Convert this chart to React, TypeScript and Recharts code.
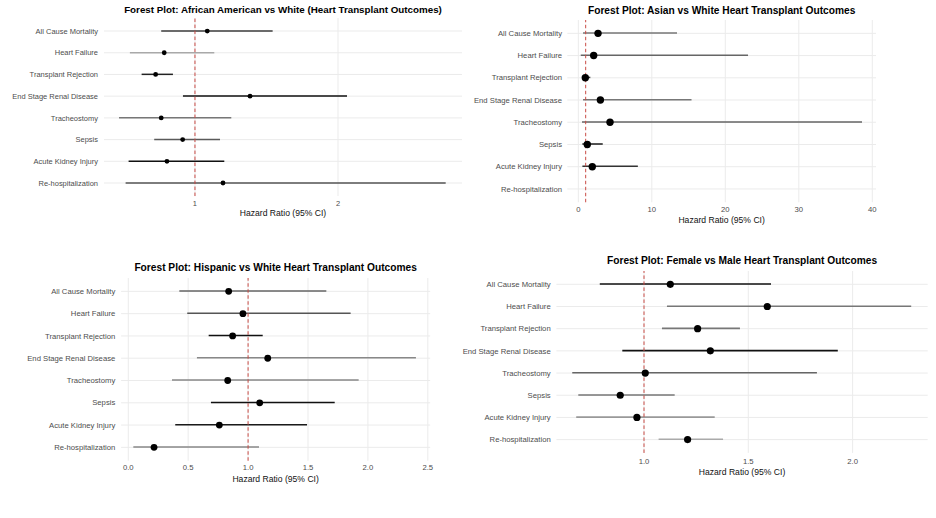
import React from "react"
import {
  ComposedChart,
  Bar,
  Line,
  Cell,
  XAxis,
  YAxis,
  CartesianGrid,
  ReferenceLine,
} from "recharts"

const outcomes = [
  "All Cause Mortality",
  "Heart Failure",
  "Transplant Rejection",
  "End Stage Renal Disease",
  "Tracheostomy",
  "Sepsis",
  "Acute Kidney Injury",
  "Re-hospitalization",
]

// African American vs White
const aaHR = [1.086, 0.785, 0.725, 1.385, 0.764, 0.914, 0.804, 1.196]
const aaLow = [0.764, 0.545, 0.627, 0.916, 0.469, 0.715, 0.536, 0.515]
const aaHigh = [1.543, 1.135, 0.846, 2.063, 1.254, 1.175, 1.205, 2.753]

// Asian vs White (no re-hospitalization estimate)
const asHR = [2.68, 2.09, 0.95, 3.0, 4.31, 1.22, 1.9, null]
const asLow = [0.64, 0.33, 0.6, 0.64, 0.5, 0.55, 0.55, null]
const asHigh = [13.43, 23.09, 1.63, 15.4, 38.6, 3.32, 8.1, null]

// Hispanic vs White
const hiHR = [0.838, 0.957, 0.871, 1.164, 0.83, 1.097, 0.76, 0.215]
const hiLow = [0.426, 0.492, 0.671, 0.573, 0.365, 0.69, 0.392, 0.042]
const hiHigh = [1.653, 1.856, 1.122, 2.401, 1.923, 1.723, 1.492, 1.091]

// Female vs Male
const fmHR = [1.126, 1.591, 1.257, 1.318, 1.006, 0.886, 0.966, 1.209]
const fmLow = [0.788, 1.11, 1.086, 0.896, 0.656, 0.685, 0.675, 1.07]
const fmHigh = [1.609, 2.281, 1.46, 1.929, 1.829, 1.147, 1.339, 1.379]

const aaTicks = [1, 2]
const aaMinor = [0.5, 1.5, 2.5]
const asTicks = [0, 10, 20, 30, 40]
const asMinor = [5, 15, 25, 35]
const hiTicks = [0, 0.5, 1, 1.5, 2, 2.5]
const hiMinor = [0.25, 0.75, 1.25, 1.75, 2.25]
const fmTicks = [1, 1.5, 2]
const fmMinor = [0.75, 1.25, 1.75, 2.25]

// line shades per row (styles, kept apart from the values)
const aaColors = ["#3c3c3c", "#a9a9a9", "#222", "#111", "#777", "#5a5a5a", "#111", "#555"]
const asColors = ["#777", "#666", "#333", "#777", "#666", "#1a1a1a", "#333", "#777"]
const hiColors = ["#666", "#555", "#111", "#888", "#888", "#111", "#1a1a1a", "#888"]
const fmColors = ["#111", "#777", "#777", "#111", "#666", "#777", "#999", "#aaa"]

const FONT = '"Liberation Sans", Arial, Helvetica, sans-serif'

function buildRows(hr, low, high) {
  return outcomes.map((o, i) => ({
    outcome: o,
    hr: hr[i],
    ci: low[i] == null ? null : [low[i], high[i]],
  }))
}

function makeYTick(size) {
  return (props) => {
    const { x, y, payload } = props
    return (
      <text
        x={x}
        y={y}
        dy="0.35em"
        textAnchor="end"
        fontSize={size}
        fill="#4d4d4d"
        fontFamily={FONT}
      >
        {payload.value}
      </text>
    )
  }
}

function Panel({
  title,
  titleSize,
  titleY,
  axisTitleY,
  left,
  plotLeft,
  plotRight,
  firstRow,
  lastRow,
  tickY,
  labelRight,
  labelSize,
  domain,
  ticks,
  minor,
  fmt,
  r,
  barSize,
  rows,
  colors,
}) {
  const step = (lastRow - firstRow) / (outcomes.length - 1)
  const plotTop = firstRow - 0.6 * step
  const plotBottom = lastRow + 0.6 * step
  const pad = 0.1 * step
  const xh = 30
  const extra = 16
  const width = plotRight - left + extra
  const height = plotBottom - plotTop + xh
  const tickMargin = tickY - 0.36 * labelSize - plotBottom
  const cx = (plotLeft + plotRight) / 2
  return (
    <>
      <div
        style={{
          position: "absolute",
          left: cx - 250,
          width: 500,
          top: titleY - 7,
          lineHeight: "14px",
          textAlign: "center",
          fontSize: titleSize,
          fontWeight: "bold",
          color: "#000",
          whiteSpace: "nowrap",
        }}
      >
        {title}
      </div>
      <div style={{ position: "absolute", left, top: plotTop }}>
        <ComposedChart
          width={width}
          height={height}
          data={rows}
          layout="vertical"
          margin={{ top: 0, right: extra, bottom: 0, left: 0 }}
        >
          <CartesianGrid
            xAxisId="minor"
            horizontal={false}
            syncWithTicks
            stroke="#f3f3f3"
            strokeWidth={0.8}
          />
          <CartesianGrid syncWithTicks stroke="#ebebeb" strokeWidth={1} />
          <XAxis
            type="number"
            domain={domain}
            ticks={ticks}
            interval={0}
            axisLine={false}
            tickLine={false}
            tickSize={0}
            tickMargin={tickMargin}
            height={xh}
            tickFormatter={fmt}
            tick={{ fontSize: labelSize, fill: "#4d4d4d", fontFamily: FONT }}
          />
          <XAxis
            xAxisId="minor"
            type="number"
            domain={domain}
            ticks={minor}
            interval={0}
            hide
          />
          <YAxis
            type="category"
            dataKey="outcome"
            width={plotLeft - left}
            axisLine={false}
            tickLine={false}
            tickSize={0}
            tickMargin={plotLeft - labelRight}
            interval={0}
            padding={{ top: pad, bottom: pad }}
            tick={makeYTick(labelSize)}
          />
          <ReferenceLine
            x={1}
            stroke="#c94a44"
            strokeDasharray="3.5 2.5"
            strokeWidth={1}
          />
          <Bar dataKey="ci" barSize={barSize} isAnimationActive={false}>
            {rows.map((_, i) => (
              <Cell key={i} fill={colors[i]} />
            ))}
          </Bar>
          <Line
            dataKey="hr"
            stroke="none"
            dot={{ r, fill: "#000", stroke: "none" }}
            activeDot={false}
            isAnimationActive={false}
          />
        </ComposedChart>
      </div>
      <div
        style={{
          position: "absolute",
          left: cx - 150,
          width: 300,
          top: axisTitleY - 6,
          lineHeight: "12px",
          textAlign: "center",
          fontSize: 8.6,
          color: "#111",
          whiteSpace: "nowrap",
        }}
      >
        Hazard Ratio (95% CI)
      </div>
    </>
  )
}

export default function App() {
  return (
    <div
      style={{
        position: "absolute",
        left: 0,
        top: 0,
        width: 936,
        height: 518,
        background: "#fff",
        fontFamily: FONT,
        overflow: "hidden",
      }}
    >
      <Panel
        title="Forest Plot: African American vs White (Heart Transplant Outcomes)"
        titleSize={9.8}
        titleY={10}
        axisTitleY={213}
        left={0}
        plotLeft={104}
        plotRight={462}
        firstRow={31}
        lastRow={183}
        tickY={203.3}
        labelRight={98}
        labelSize={7.5}
        domain={[0.364, 2.867]}
        ticks={aaTicks}
        minor={aaMinor}
        fmt={(v) => String(v)}
        r={2.4}
        barSize={1.5}
        rows={buildRows(aaHR, aaLow, aaHigh)}
        colors={aaColors}
      />
      <Panel
        title="Forest Plot: Asian vs White Heart Transplant Outcomes"
        titleSize={10.2}
        titleY={10.5}
        axisTitleY={220}
        left={470}
        plotLeft={567.3}
        plotRight={876}
        firstRow={33.7}
        lastRow={189.3}
        tickY={210}
        labelRight={562}
        labelSize={7.7}
        domain={[-1.5, 40.5]}
        ticks={asTicks}
        minor={asMinor}
        fmt={(v) => String(v)}
        r={3.7}
        barSize={1.5}
        rows={buildRows(asHR, asLow, asHigh)}
        colors={asColors}
      />
      <Panel
        title="Forest Plot: Hispanic vs White Heart Transplant Outcomes"
        titleSize={10.2}
        titleY={268.3}
        axisTitleY={479.3}
        left={0}
        plotLeft={121.1}
        plotRight={430.2}
        firstRow={291.3}
        lastRow={447.3}
        tickY={467.7}
        labelRight={115.3}
        labelSize={7.7}
        domain={[-0.06, 2.52]}
        ticks={hiTicks}
        minor={hiMinor}
        fmt={(v) => v.toFixed(1)}
        r={3.4}
        barSize={1.5}
        rows={buildRows(hiHR, hiLow, hiHigh)}
        colors={hiColors}
      />
      <Panel
        title="Forest Plot: Female vs Male Heart Transplant Outcomes"
        titleSize={10.2}
        titleY={261}
        axisTitleY={471.7}
        left={440}
        plotLeft={556.4}
        plotRight={927.7}
        firstRow={284.7}
        lastRow={440}
        tickY={461.7}
        labelRight={550.7}
        labelSize={7.7}
        domain={[0.58, 2.36]}
        ticks={fmTicks}
        minor={fmMinor}
        fmt={(v) => v.toFixed(1)}
        r={3.6}
        barSize={1.6}
        rows={buildRows(fmHR, fmLow, fmHigh)}
        colors={fmColors}
      />
    </div>
  )
}
